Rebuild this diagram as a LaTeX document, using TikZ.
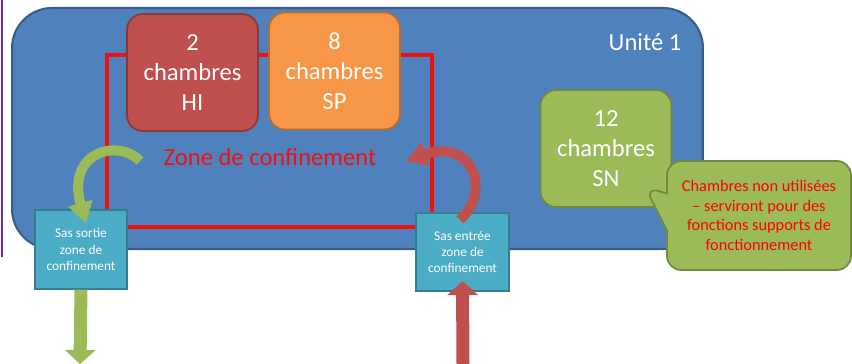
\documentclass[tikz,border=0pt]{standalone}
\usepackage{fontspec}
\setmainfont{Carlito}
\usepackage{tikz}
\usetikzlibrary{positioning,arrows.meta,shapes.callouts}

\definecolor{unitfill}{HTML}{4F81BD}
\definecolor{unitedge}{HTML}{385D8A}
\definecolor{hifill}{HTML}{C0504D}
\definecolor{hiedge}{HTML}{8C3836}
\definecolor{spfill}{HTML}{F79646}
\definecolor{spedge}{HTML}{B66D31}
\definecolor{snfill}{HTML}{9BBB59}
\definecolor{snedge}{HTML}{71893F}
\definecolor{sasfill}{HTML}{4BACC6}
\definecolor{sasedge}{HTML}{357D91}
\definecolor{zonered}{HTML}{F01010}
\definecolor{framepurple}{HTML}{7030A0}

\begin{document}
\begin{tikzpicture}[
  x=0.02cm, y=-0.02cm,
  big/.style={font=\fontsize{14}{17}\selectfont},
  room/.style 2 args={big, fill=#1, draw=#2, line width=1pt, rounded corners=9pt,
    minimum width=2.62cm, minimum height=2.34cm, align=center, text=white},
  sas/.style={fill=sasfill, draw=sasedge, line width=1pt, minimum width=1.85cm,
    minimum height=1.57cm, align=center, text=white, font=\fontsize{7.6}{9.2}\selectfont},
  flow/.style={line width=0.26cm, -{Triangle[width=0.6cm,length=0.28cm]}},
  turn/.style={line width=0.2cm, -{Triangle[width=0.48cm,length=0.42cm]}}
]
\useasboundingbox (0,0) rectangle (852,364);

% frame left over on the slide
\draw[framepurple, line width=1.5pt] (2,0) -- (2,257);

% unit and confinement zone
\node[fill=unitfill, draw=unitedge, line width=1.2pt, rounded corners=0.8cm,
  minimum width=13.82cm, minimum height=4.82cm] (unit) at (357.5,128.5) {};
\node[big, text=white] (unitlabel) at (645,42) {Unité 1};
\node[draw=zonered, line width=1.8pt, minimum width=6.5cm, minimum height=3.44cm] (zone) at (269.5,141) {};
\node[big, text=zonered] (zonelabel) at (270,157) {Zone de confinement};

% rooms
\node[room={hifill}{hiedge}] (hi) at (192.5,72.5) {2\\chambres\\HI};
\node[room={spfill}{spedge}] (sp) at (334.5,71) {8\\chambres\\SP};
\node[room={snfill}{snedge}] (sn) at (606,148.5) {12\\chambres\\SN};

% note on the unused rooms
\coordinate (tip) at (645,187);
\node[rectangle callout, callout absolute pointer=(tip), callout pointer width=0.74cm,
  fill=snfill, draw=snedge, line width=1pt, rounded corners=8pt,
  minimum width=3.68cm, minimum height=2.18cm, align=center, text=red,
  font=\fontsize{9.3}{11.2}\selectfont] (note) at (759,215.5)
  {Chambres non utilisées\\– serviront pour des\\fonctions supports de\\fonctionnement};

% airlocks
\node[sas] (sasout) at (81,249.5) {Sas sortie\\zone de\\confinement};
\node[sas] (sasin) at (462.5,252) {Sas entrée\\zone de\\confinement};

% ways out and in
\coordinate (exit) at (80,364);
\coordinate (entry) at (463,364);
\coordinate (gstart) at (140,161);
\coordinate (rend) at (406,161);
\draw[flow, snfill] (sasout.south) -- (exit);
\draw[flow, hifill] (entry) -- ([yshift=0.22cm]sasin.south);
\draw[turn, snfill] (gstart) .. controls (118,138) and (66,152) .. ([xshift=0.1cm,yshift=-0.28cm]sasout.north);
\draw[turn, hifill] ([xshift=-0.05cm,yshift=-0.16cm]sasin.north) .. controls (492,190) and (472,138) .. (rend);
\end{tikzpicture}
\end{document}
